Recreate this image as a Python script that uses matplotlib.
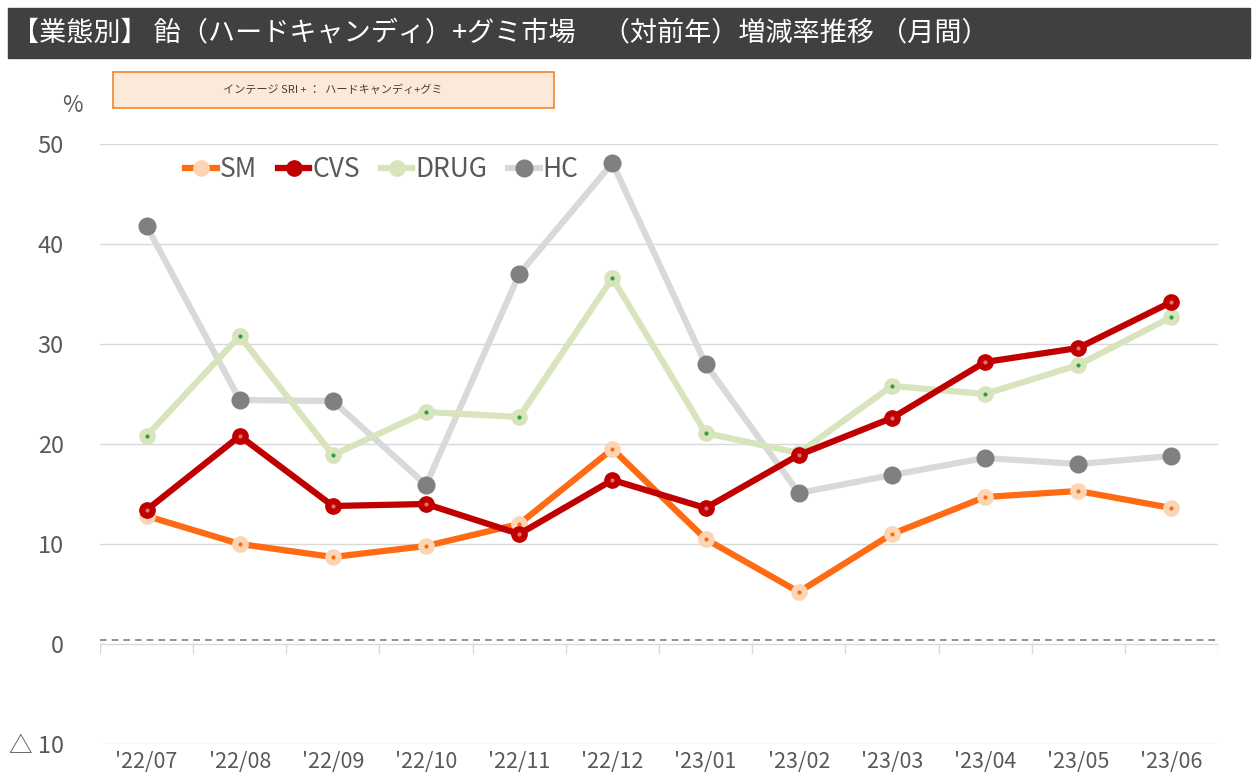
import matplotlib

matplotlib.use("Agg")
import matplotlib.pyplot as plt
from matplotlib.patches import Rectangle
from matplotlib.lines import Line2D

plt.rcParams["font.family"] = ["Noto Sans CJK JP", "DejaVu Sans"]

MONTHS = ["'22/07", "'22/08", "'22/09", "'22/10", "'22/11", "'22/12",
          "'23/01", "'23/02", "'23/03", "'23/04", "'23/05", "'23/06"]
SM = [12.8, 10.0, 8.7, 9.8, 12.0, 19.5, 10.5, 5.2, 11.0, 14.7, 15.3, 13.6]
CVS = [13.4, 20.8, 13.8, 14.0, 11.0, 16.4, 13.6, 18.9, 22.6, 28.2, 29.6, 34.2]
DRUG = [20.8, 30.8, 18.9, 23.2, 22.7, 36.6, 21.1, 19.1, 25.8, 25.0, 27.9, 32.7]
HC = [41.8, 24.4, 24.3, 15.9, 37.0, 48.1, 28.0, 15.1, 16.9, 18.6, 18.0, 18.8]
Y_TICKS = [-10, 0, 10, 20, 30, 40, 50]
Y_LABELS = ["△ 10", "0", "10", "20", "30", "40", "50"]

TITLE = "【業態別】 飴（ハードキャンディ）+グミ市場　（対前年）増減率推移 （月間）"
SOURCE = "インテージ SRI + ：  ハードキャンディ+グミ"

fig = plt.figure(figsize=(12.58, 7.78), dpi=100)

# title bar
fig.patches.append(Rectangle((8 / 1258, 1 - 58 / 778), 1242 / 1258, 50 / 778,
                             transform=fig.transFigure, color="#404040", zorder=0))
fig.text(12 / 1258, 1 - 34 / 778, TITLE, color="white", fontsize=19.5,
         va="center", ha="left")

# source box
fig.patches.append(Rectangle((113 / 1258, 1 - 108 / 778), 441 / 1258, 36 / 778,
                             transform=fig.transFigure, facecolor="#FDE9D9",
                             edgecolor="#F0862D", linewidth=1.2, zorder=1))
fig.text(333 / 1258, 1 - 90 / 778, SOURCE, fontsize=8, color="#404040",
         ha="center", va="center")
fig.text(72 / 1258, 1 - 106 / 778, "%", fontsize=16, color="#595959",
         ha="center", va="center")

ax = fig.add_axes([100 / 1258, 1 - 744 / 778, 1118 / 1258, 600 / 778])
x = list(range(len(MONTHS)))

series = [
    ("SM", SM, "#FF6A14", "#FCD5B4", "#FF6A14", 11),
    ("CVS", CVS, "#C00000", "#C00000", "#E07070", 11),
    ("DRUG", DRUG, "#D8E4BC", "#D8E4BC", "#2EA043", 11),
    ("HC", HC, "#D9D9D9", "#808080", "#808080", 12),
]
order = {"HC": 2, "DRUG": 3, "CVS": 5, "SM": 4}
for name, vals, lc, mc, dc, ms in series:
    z = order[name]
    ax.plot(x, vals, color=lc, lw=4.5, marker="o", ms=ms, mfc=mc, mec=mc,
            zorder=z, solid_capstyle="round")
    ax.plot(x, vals, ls="none", marker="o", ms=2, mfc=dc, mec=dc, zorder=z + 0.1)

ax.set_xlim(-0.5, len(MONTHS) - 0.5)
ax.set_ylim(-10, 50)
ax.set_yticks(Y_TICKS)
ax.set_yticklabels(Y_LABELS)
ax.set_xticks(x)
ax.set_xticklabels(MONTHS)
for s in ax.spines.values():
    s.set_visible(False)
ax.tick_params(axis="y", length=0, pad=26, labelsize=17, labelcolor="#595959")
ax.tick_params(axis="x", length=0, pad=5, labelsize=15.5, labelcolor="#595959")
for v in [-10, 10, 20, 30, 40, 50]:
    ax.axhline(v, color="#D9D9D9", lw=1, zorder=1)

# category axis at zero with tick marks
ax.axhline(0, color="#D9D9D9", lw=1, zorder=1)
for i in range(len(MONTHS) + 1):
    ax.plot([i - 0.5, i - 0.5], [0, -0.9], color="#D9D9D9", lw=1, zorder=1)
ax.axhline(0.45, color="#7F7F7F", lw=1.2, ls=(0, (4, 3)), zorder=1.5)

handles = []
for name, vals, lc, mc, dc, ms in series:
    handles.append(Line2D([], [], color=lc, lw=4.5, marker="o", ms=ms,
                          mfc=mc, mec=mc))
leg = ax.legend(handles, [s[0] for s in series], loc="upper left",
                bbox_to_anchor=(0.055, 1.02), ncol=4, frameon=False,
                fontsize=19, handlelength=1.2, handletextpad=0.1,
                columnspacing=0.8, labelcolor="#595959")

fig.savefig("out.png", dpi=100)
